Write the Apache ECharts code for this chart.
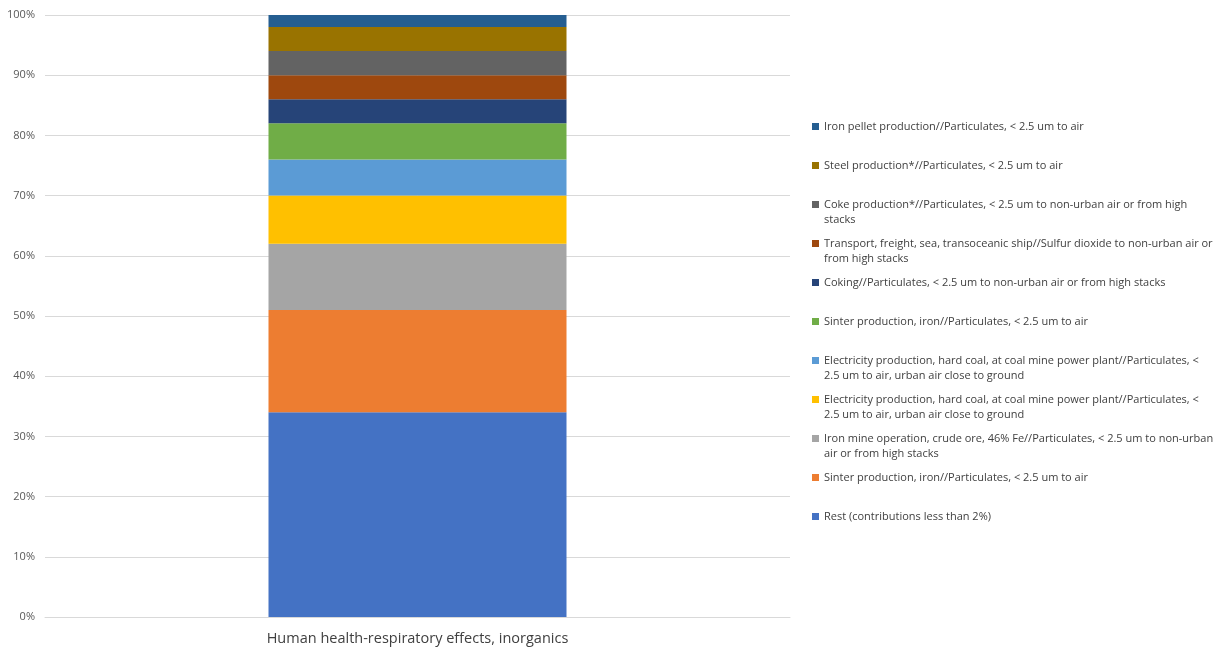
<!DOCTYPE html>
<html>
<head>
<meta charset="utf-8">
<script src="https://cdn.jsdelivr.net/npm/echarts@6/dist/echarts.min.js"></script>
<style>html,body{margin:0;padding:0;background:#fff}#c{width:1225px;height:650px}</style>
</head>
<body>
<div id="c"></div>
<script>
const categories = ['Human health-respiratory effects, inorganics'];
const seriesNames = [
  'Rest (contributions less than 2%)',
  'Sinter production, iron//Particulates, < 2.5 um to air',
  'Iron mine operation, crude ore, 46% Fe//Particulates, < 2.5 um to non-urban air or from high stacks',
  'Electricity production, hard coal, at coal mine power plant//Particulates, < 2.5 um to air, urban air close to ground',
  'Electricity production, hard coal, at coal mine power plant//Particulates, < 2.5 um to air, urban air close to ground ',
  'Sinter production, iron//Particulates, < 2.5 um to air ',
  'Coking//Particulates, < 2.5 um to non-urban air or from high stacks',
  'Transport, freight, sea, transoceanic ship//Sulfur dioxide to non-urban air or from high stacks',
  'Coke production*//Particulates, < 2.5 um to non-urban air or from high stacks',
  'Steel production*//Particulates, < 2.5 um to air',
  'Iron pellet production//Particulates, < 2.5 um to air'
];
const seriesValues = [34, 17, 11, 8, 6, 6, 4, 4, 4, 4, 2];
const seriesColors = ['#4472C4','#ED7D31','#A5A5A5','#FFC000','#5B9BD5','#70AD47','#264478','#9E480E','#636363','#997300','#255E91'];
const yTicks = { min: 0, max: 100, interval: 10 };

const FONT = '"Open Sans", sans-serif';
const LEGEND_SIZE = 11;
const WRAP_W = 391;
const ctx = document.createElement('canvas').getContext('2d');
ctx.font = LEGEND_SIZE + 'px ' + FONT;

function wrapLegend(name) {
  const words = name.trim().split(' ');
  const lines = [];
  let cur = '';
  words.forEach(w => {
    const test = cur ? cur + ' ' + w : w;
    if (cur && ctx.measureText(test).width > WRAP_W) {
      lines.push(cur);
      cur = w;
    } else {
      cur = test;
    }
  });
  lines.push(cur);
  if (lines.length === 1) lines.push(' ');
  return lines.join('\n');
}

const chart = echarts.init(document.getElementById('c'));
const series = seriesNames.map((n, i) => ({
  name: n,
  type: 'bar',
  stack: 'total',
  barWidth: '40%',
  itemStyle: { color: seriesColors[i] },
  data: [seriesValues[i]]
}));
chart.setOption({
  backgroundColor: '#ffffff',
  animation: false,
  textStyle: { fontFamily: FONT },
  grid: { left: 45, right: 435, top: 15, bottom: 33 },
  xAxis: {
    type: 'category',
    data: categories,
    axisLine: { lineStyle: { color: '#d9d9d9' } },
    axisTick: { show: false },
    axisLabel: { color: '#404040', fontSize: 14.5, margin: 14 }
  },
  yAxis: {
    type: 'value',
    min: yTicks.min, max: yTicks.max, interval: yTicks.interval,
    axisLine: { show: false },
    axisTick: { show: false },
    splitLine: { lineStyle: { color: '#d9d9d9' } },
    axisLabel: { color: '#595959', fontSize: 11, margin: 10, formatter: '{value}%' }
  },
  legend: {
    orient: 'vertical',
    left: 807,
    top: 114,
    itemGap: 9,
    itemWidth: 7,
    itemHeight: 22,
    icon: 'path://M0,0h7v7h-7z M0,22 L0.01,22',
    data: seriesNames.slice().reverse(),
    formatter: wrapLegend,
    textStyle: {
      color: '#404040', fontSize: LEGEND_SIZE, fontFamily: FONT, lineHeight: 15
    }
  },
  series: series
});
</script>
</body>
</html>
